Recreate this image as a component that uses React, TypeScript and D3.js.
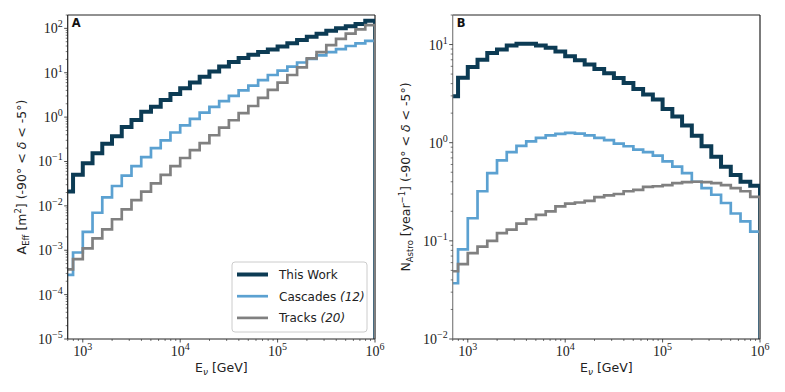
import React from "react";
import * as d3 from "d3";

// Bin edges (log10 of E in GeV)
const binEdgesLog10 = [
  2.8, 2.9, 3.0, 3.1, 3.2, 3.3, 3.4, 3.5, 3.6, 3.7, 3.8, 3.9, 4.0, 4.1, 4.2, 4.3,
  4.4, 4.5, 4.6, 4.7, 4.8, 4.9, 5.0, 5.1, 5.2, 5.3, 5.4, 5.5, 5.6, 5.7, 5.8, 5.9, 6.0,
];

// Panel A: effective area [m^2]
const aeffThisWork = [
  0.021, 0.05, 0.091, 0.153, 0.25, 0.37, 0.6, 0.86, 1.32, 1.71, 2.43, 3.3, 4.47, 6.0,
  8.1, 10.7, 13.8, 17.5, 21.5, 25.5, 29.5, 33.5, 39, 46, 55, 65, 76, 88, 100, 112, 125, 148,
];
const aeffCascades = [
  2.8e-4, 8.9e-4, 2.6e-3, 7.0e-3, 0.0155, 0.028, 0.048, 0.079, 0.126, 0.2, 0.3, 0.45,
  0.65, 0.91, 1.26, 1.7, 2.3, 3.0, 4.0, 5.1, 6.8, 8.9, 11.2, 13.8, 17, 20.4, 24.5, 29,
  34, 40, 46, 52,
];
const aeffTracks = [
  3.7e-4, 6.3e-4, 1.1e-3, 1.86e-3, 2.95e-3, 5.0e-3, 8.3e-3, 0.0135, 0.021, 0.032, 0.05,
  0.079, 0.12, 0.18, 0.26, 0.39, 0.58, 0.85, 1.23, 1.78, 2.7, 4.1, 6.0, 8.9, 13.2, 21,
  29, 42, 58, 76, 95, 118,
];

// Panel B: astrophysical events per year
const nThisWork = [
  2.97, 4.6, 5.9, 7.0, 8.2, 8.9, 9.8, 10.2, 10.2, 9.8, 9.25, 8.5, 7.6, 6.9, 6.25, 5.65,
  5.1, 4.57, 4.06, 3.53, 3.09, 2.75, 2.2, 1.85, 1.5, 1.18, 0.92, 0.72, 0.57, 0.47, 0.4, 0.365,
];
const nCascades = [
  0.037, 0.082, 0.17, 0.32, 0.49, 0.66, 0.8, 0.93, 1.03, 1.12, 1.19, 1.23, 1.26, 1.24,
  1.19, 1.12, 1.06, 0.98, 0.92, 0.85, 0.8, 0.74, 0.645, 0.57, 0.49, 0.4, 0.344, 0.295,
  0.243, 0.19, 0.158, 0.124,
];
const nTracks = [
  0.049, 0.058, 0.075, 0.0875, 0.1, 0.12, 0.13, 0.15, 0.166, 0.184, 0.2, 0.224, 0.239,
  0.246, 0.255, 0.279, 0.29, 0.3, 0.32, 0.33, 0.355, 0.36, 0.37, 0.388, 0.397, 0.4, 0.397,
  0.388, 0.37, 0.344, 0.32, 0.28,
];

const xTickExps = [3, 4, 5, 6];
const leftYTickExps = [-5, -4, -3, -2, -1, 0, 1, 2];
const rightYTickExps = [-2, -1, 0, 1];
const legendNames = ["This Work", "Cascades", "Tracks"];
const legendRefs = ["", "(12)", "(20)"];

const COLORS = ["#0c3b54", "#5ba1d1", "#808080"];
const WIDTHS = [4, 2.7, 2.7];

const TICK_FONT = "'Liberation Serif', 'DejaVu Serif', serif";
const SANS = "'DejaVu Sans', sans-serif";

const X_DOMAIN: [number, number] = [700, 1e6];
const TOP = 15;
const BOTTOM = 339;

function fmtExp(e: number) {
  return e < 0 ? "\u2212" + Math.abs(e) : String(e);
}

function stepPath(values: number[], x: any, y: any) {
  const pts: [number, number][] = [];
  const last = binEdgesLog10.length - 1;
  pts.push([x(Math.pow(10, binEdgesLog10[0])), BOTTOM + 20]);
  values.forEach((v, i) => {
    pts.push([x(Math.pow(10, binEdgesLog10[i])), y(v)]);
    pts.push([x(Math.pow(10, binEdgesLog10[i + 1])), y(v)]);
  });
  pts.push([x(Math.pow(10, binEdgesLog10[last])), BOTTOM + 20]);
  return d3.line()(pts) || "";
}

function minorValues(domain: [number, number]) {
  const out: number[] = [];
  const lo = Math.floor(Math.log10(domain[0]));
  const hi = Math.ceil(Math.log10(domain[1]));
  for (let d = lo; d <= hi; d++) {
    for (let m = 2; m <= 9; m++) {
      const v = m * Math.pow(10, d);
      if (v >= domain[0] * 0.9999 && v <= domain[1] * 1.0001) out.push(v);
    }
  }
  return out;
}

type PanelProps = {
  id: string;
  left: number;
  right: number;
  yDomain: [number, number];
  yTickExps: number[];
  series: number[][];
  letter: string;
  yLabel: React.ReactNode;
  yLabelX: number;
  leftSpineColor: string;
  legend?: boolean;
};

function Panel(p: PanelProps) {
  const x = d3.scaleLog().domain(X_DOMAIN).range([p.left, p.right]);
  const y = d3.scaleLog().domain(p.yDomain).range([BOTTOM, TOP]);
  const clipId = "clip-" + p.id;
  const xMinor = minorValues(X_DOMAIN);
  const yMinor = minorValues(p.yDomain);
  const midX = (p.left + p.right) / 2;
  const midY = (TOP + BOTTOM) / 2;
  const lx = p.right - 143;
  const ly = 262;
  return (
    <g>
      <defs>
        <clipPath id={clipId}>
          <rect x={p.left} y={TOP} width={p.right - p.left} height={BOTTOM - TOP} />
        </clipPath>
      </defs>
      {/* spines (under series) */}
      <line x1={p.right} x2={p.right} y1={TOP} y2={BOTTOM} stroke="#222" strokeWidth={1.2} />
      {/* series */}
      <g clipPath={`url(#${clipId})`}>
        {p.series.map((s, i) => (
          <path
            key={i}
            d={stepPath(s, x, y)}
            fill="none"
            stroke={COLORS[i]}
            strokeWidth={WIDTHS[i]}
            strokeLinejoin="miter"
          />
        ))}
      </g>
      <line x1={p.left} x2={p.right} y1={TOP} y2={TOP} stroke="#222" strokeWidth={1} />
      <line x1={p.left} x2={p.right} y1={BOTTOM} y2={BOTTOM} stroke="#222" strokeWidth={1} />
      <line x1={p.left} x2={p.left} y1={TOP} y2={BOTTOM} stroke={p.leftSpineColor} strokeWidth={1.2} />
      {/* x ticks */}
      {xTickExps.map((e) => {
        const px = x(Math.pow(10, e));
        return (
          <g key={"xt" + e}>
            <line x1={px} x2={px} y1={BOTTOM} y2={BOTTOM + 3.5} stroke="#222" strokeWidth={0.8} />
            <text x={px} y={BOTTOM + 17} textAnchor="middle" fontFamily={TICK_FONT} fontSize={14} fill="#222">
              10<tspan dy={-6} fontSize={10}>{fmtExp(e)}</tspan>
            </text>
          </g>
        );
      })}
      {xMinor.map((v, i) => {
        const px = x(v);
        return <line key={"xm" + i} x1={px} x2={px} y1={BOTTOM} y2={BOTTOM + 2} stroke="#222" strokeWidth={0.6} />;
      })}
      {/* y ticks */}
      {p.yTickExps.map((e) => {
        const py = y(Math.pow(10, e));
        return (
          <g key={"yt" + e}>
            <line x1={p.left - 3.5} x2={p.left} y1={py} y2={py} stroke="#222" strokeWidth={0.8} />
            <text x={p.left - 5} y={py + 5} textAnchor="end" fontFamily={TICK_FONT} fontSize={14} fill="#222">
              10<tspan dy={-6} fontSize={10}>{fmtExp(e)}</tspan>
            </text>
          </g>
        );
      })}
      {yMinor.map((v, i) => {
        const py = y(v);
        return <line key={"ym" + i} x1={p.left - 2} x2={p.left} y1={py} y2={py} stroke="#222" strokeWidth={0.6} />;
      })}
      {/* panel letter */}
      <text x={p.left + 4} y={TOP + 11.5} fontFamily={SANS} fontWeight="bold" fontSize={11.5} fill="#111">
        {p.letter}
      </text>
      {/* x label */}
      <text x={midX} y={372} textAnchor="middle" fontFamily={SANS} fontSize={12.5} fill="#222">
        E<tspan dy={3} fontSize={9} fontStyle="italic">ν</tspan>
        <tspan dy={-3}> [GeV]</tspan>
      </text>
      {/* y label */}
      <text
        transform={`translate(${p.yLabelX},${midY}) rotate(-90)`}
        textAnchor="middle"
        fontFamily={SANS}
        fontSize={12.5}
        fill="#222"
      >
        {p.yLabel}
      </text>
      {/* legend */}
      {p.legend && (
        <g>
          <rect x={lx} y={ly} width={135} height={70} rx={3} fill="white" fillOpacity={0.85} stroke="#cccccc" strokeWidth={1} />
          {legendNames.map((n, i) => {
            const ry = ly + 12.5 + i * 21.7;
            return (
              <g key={n}>
                <line x1={lx + 5} x2={lx + 36} y1={ry} y2={ry} stroke={COLORS[i]} strokeWidth={WIDTHS[i]} />
                <text x={lx + 47} y={ry + 4.5} fontFamily={SANS} fontSize={12} fill="#222">
                  {n}
                  {legendRefs[i] ? <tspan fontStyle="italic">{" " + legendRefs[i]}</tspan> : null}
                </text>
              </g>
            );
          })}
        </g>
      )}
    </g>
  );
}

export default function App() {
  const leftYLabel = (
    <>
      A<tspan dy={3} fontSize={8.5}>Eff</tspan>
      <tspan dy={-3}> [m</tspan>
      <tspan dy={-5} fontSize={8.5}>2</tspan>
      <tspan dy={5}>] (-90° &lt; </tspan>
      <tspan fontStyle="italic">δ</tspan>
      <tspan> &lt; -5°)</tspan>
    </>
  );
  const rightYLabel = (
    <>
      N<tspan dy={3} fontSize={8.5}>Astro</tspan>
      <tspan dy={-3}> [year</tspan>
      <tspan dy={-5} fontSize={8.5}>−1</tspan>
      <tspan dy={5}>] (-90° &lt; </tspan>
      <tspan fontStyle="italic">δ</tspan>
      <tspan> &lt; -5°)</tspan>
    </>
  );
  return (
    <svg width={785} height={392} style={{ display: "block", position: "absolute", left: 0, top: 0 }}>
      <rect width={785} height={392} fill="white" />
      <Panel
        id="a"
        left={67.7}
        right={375}
        yDomain={[1e-5, 200]}
        yTickExps={leftYTickExps}
        series={[aeffThisWork, aeffCascades, aeffTracks]}
        letter="A"
        yLabel={leftYLabel}
        yLabelX={26}
        leftSpineColor="#222"
        legend
      />
      <Panel
        id="b"
        left={452.7}
        right={760}
        yDomain={[0.01, 20]}
        yTickExps={rightYTickExps}
        series={[nThisWork, nCascades, nTracks]}
        letter="B"
        yLabel={rightYLabel}
        yLabelX={410}
        leftSpineColor="#808080"
      />
    </svg>
  );
}
